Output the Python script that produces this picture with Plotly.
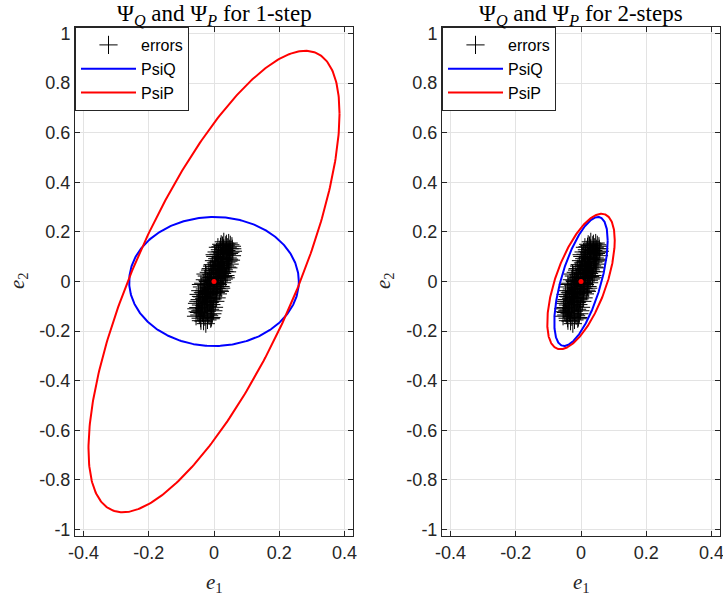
import numpy as np
import plotly.graph_objects as go

# ---- data ----
err_e1 = [-0.032, -0.020, -0.041, -0.010, -0.028, -0.045, -0.015, -0.035, -0.005, -0.050,
          -0.022, -0.038, -0.012, -0.030, -0.048, 0.000, -0.020, -0.040, -0.008, -0.027,
          -0.052, -0.015, -0.035, 0.004, -0.024, -0.044, -0.010, -0.030, 0.008, -0.018,
          -0.040, -0.002, -0.026, -0.047, 0.012, -0.013, -0.034, 0.002, -0.022, -0.042,
          0.016, -0.006, -0.028, 0.008, -0.016, -0.037, 0.020, -0.002, -0.024, 0.012,
          -0.012, -0.033, 0.025, 0.003, -0.018, 0.015, -0.006, -0.028, 0.030, 0.008,
          -0.014, 0.020, -0.002, -0.022, 0.035, 0.012, -0.008, 0.025, 0.004, -0.016,
          0.040, 0.018, -0.002, 0.030, 0.010, -0.010, 0.044, 0.022, 0.002, 0.034,
          0.014, -0.004, 0.048, 0.026, 0.006, 0.038, 0.018, 0.000, 0.052, 0.030,
          0.010, 0.042, 0.022, 0.004, 0.055, 0.034, 0.014, 0.046, 0.026, 0.008,
          0.058, 0.038, 0.018, 0.048, 0.030, 0.012, 0.055, 0.036, 0.022, 0.045,
          0.030,
          -0.025, -0.040, -0.008, -0.055, -0.018, -0.042, -0.002, -0.030, -0.012, -0.048,
          -0.004, -0.036, -0.020, 0.006, -0.030, -0.010, 0.022, -0.040, 0.006, -0.020,
          0.024, -0.008, 0.028, -0.026, 0.014, 0.032, -0.012, 0.020, 0.040, -0.006,
          0.024, 0.010, 0.044, 0.028, 0.014, 0.040, 0.020, 0.050, 0.030, 0.042,
          0.026, 0.038, 0.050, 0.020,
          -0.046, -0.022, 0.010, -0.054, 0.018, 0.036, -0.030, 0.046, 0.056, 0.002]
err_e2 = [-0.160, -0.155, -0.148, -0.150, -0.142, -0.135, -0.138, -0.128, -0.130, -0.122,
          -0.120, -0.115, -0.112, -0.108, -0.105, -0.104, -0.100, -0.095, -0.093, -0.090,
          -0.088, -0.085, -0.082, -0.080, -0.077, -0.073, -0.071, -0.068, -0.066, -0.063,
          -0.060, -0.058, -0.055, -0.052, -0.050, -0.048, -0.045, -0.043, -0.040, -0.037,
          -0.035, -0.033, -0.030, -0.028, -0.025, -0.022, -0.020, -0.018, -0.015, -0.012,
          -0.010, -0.007, -0.005, -0.003, 0.000, 0.002, 0.005, 0.007, 0.010, 0.012,
          0.014, 0.017, 0.019, 0.022, 0.024, 0.027, 0.029, 0.032, 0.034, 0.037,
          0.039, 0.042, 0.044, 0.047, 0.050, 0.052, 0.055, 0.057, 0.060, 0.063,
          0.065, 0.068, 0.070, 0.073, 0.075, 0.078, 0.081, 0.084, 0.086, 0.089,
          0.092, 0.095, 0.098, 0.101, 0.104, 0.107, 0.110, 0.113, 0.116, 0.119,
          0.122, 0.125, 0.128, 0.132, 0.135, 0.138, 0.142, 0.146, 0.150, 0.155,
          0.160,
          -0.170, -0.158, -0.145, -0.140, -0.132, -0.118, -0.118, -0.098, -0.083, -0.080,
          -0.070, -0.062, -0.052, -0.045, -0.038, -0.030, -0.027, -0.012, -0.008, 0.003,
          0.005, 0.016, 0.020, 0.030, 0.036, 0.040, 0.046, 0.052, 0.058, 0.062,
          0.067, 0.078, 0.082, 0.094, 0.100, 0.110, 0.120, 0.118, 0.130, 0.138,
          0.145, 0.152, 0.148, 0.140,
          -0.125, -0.065, -0.020, -0.110, -0.040, 0.015, -0.046, 0.090, 0.132, 0.108]

# ellipse shape matrices [P11, P12, P22]
psiQ_1 = [0.0676, 0.0, 0.0676]
psiP_1 = [0.148, 0.26, 0.865]
psiQ_2 = [0.0067, 0.0135, 0.0676]
psiP_2 = [0.0107, 0.0172, 0.0745]
center = [0.0, 0.0]

x_tickvals = [-0.4, -0.2, 0, 0.2, 0.4]
x_ticktext = ["-0.4", "-0.2", "0", "0.2", "0.4"]
y_tickvals = [-1, -0.8, -0.6, -0.4, -0.2, 0, 0.2, 0.4, 0.6, 0.8, 1]
y_ticktext = ["-1", "-0.8", "-0.6", "-0.4", "-0.2", "0", "0.2", "0.4", "0.6", "0.8", "1"]

titles = ["Ψ<sub><i>Q</i></sub> and Ψ<sub><i>P</i></sub> for 1-step",
          "Ψ<sub><i>Q</i></sub> and Ψ<sub><i>P</i></sub> for 2-steps"]


def ellipse(m, n=400):
    P = np.array([[m[0], m[1]], [m[1], m[2]]])
    L = np.linalg.cholesky(P)
    t = np.linspace(0, 2 * np.pi, n)
    pts = L @ np.vstack([np.cos(t), np.sin(t)])
    return pts[0] + center[0], pts[1] + center[1]


fig = go.Figure()
SANS = "Liberation Sans"
SERIF = "Liberation Serif"
AX = "#262626"

panels = [(psiQ_1, psiP_1, "x", "y", "legend"), (psiQ_2, psiP_2, "x2", "y2", "legend2")]
for q, p, xa, ya, lg in panels:
    fig.add_trace(go.Scatter(x=err_e1, y=err_e2, mode="markers", name="errors",
                             xaxis=xa, yaxis=ya, legend=lg,
                             marker=dict(symbol="cross-thin", size=13, color="black",
                                         line=dict(color="black", width=1))))
    qx, qy = ellipse(q)
    fig.add_trace(go.Scatter(x=qx, y=qy, mode="lines", name="PsiQ", xaxis=xa, yaxis=ya,
                             legend=lg, line=dict(color="#0000ff", width=2)))
    px_, py_ = ellipse(p)
    fig.add_trace(go.Scatter(x=px_, y=py_, mode="lines", name="PsiP", xaxis=xa, yaxis=ya,
                             legend=lg, line=dict(color="#ff0000", width=2)))
    fig.add_trace(go.Scatter(x=[center[0]], y=[center[1]], mode="markers", showlegend=False,
                             xaxis=xa, yaxis=ya, marker=dict(color="#ff0000", size=5)))

W, H = 723, 601
xdoms = [[75 / W, 353 / W], [442 / W, 720 / W]]
ydom = [1 - 536 / H, 1 - 27 / H]

axcommon = dict(showline=True, linecolor=AX, linewidth=1, mirror="ticks", ticks="inside",
                ticklen=5, tickcolor=AX, showgrid=True, gridcolor="#e3e3e3", gridwidth=1,
                zeroline=False, tickfont=dict(family=SANS, size=18, color=AX),
                ticklabeloverflow="allow")
layout = dict(width=W, height=H, margin=dict(l=0, r=0, t=0, b=0, autoexpand=False),
              plot_bgcolor="white", paper_bgcolor="white", showlegend=True)
for i, (xa, ya) in enumerate([("xaxis", "yaxis"), ("xaxis2", "yaxis2")]):
    layout[xa] = dict(axcommon, domain=xdoms[i], range=[-0.426, 0.426],
                      tickvals=x_tickvals, ticktext=x_ticktext,
                      anchor="y" if i == 0 else "y2")
    layout[ya] = dict(axcommon, domain=ydom, range=[-1.026, 1.026],
                      tickvals=y_tickvals, ticktext=y_ticktext,
                      anchor="x" if i == 0 else "x2")

legcommon = dict(bgcolor="white", bordercolor=AX, borderwidth=1,
                 font=dict(family=SANS, size=16, color="black"),
                 xanchor="left", yanchor="top", y=ydom[1], tracegroupgap=0,
                 itemwidth=55)
layout["legend"] = dict(legcommon, x=xdoms[0][0])
layout["legend2"] = dict(legcommon, x=xdoms[1][0])
fig.update_layout(**layout)

ann = []
for i in range(2):
    cx = (xdoms[i][0] + xdoms[i][1]) / 2
    ann.append(dict(text=titles[i], x=cx, y=1.0, xref="paper", yref="paper",
                    showarrow=False, xanchor="center", yanchor="top", borderpad=0,
                    font=dict(family=SERIF, size=23, color="black")))
    ann.append(dict(text="<i>e</i><sub>1</sub>", x=cx, y=1 - 583 / H, xref="paper",
                    yref="paper", showarrow=False, xanchor="center", yanchor="middle",
                    font=dict(family=SERIF, size=21, color=AX)))
    ann.append(dict(text="<i>e</i><sub>2</sub>", x=(18 if i == 0 else 384) / W,
                    y=1 - 281 / H, xref="paper", yref="paper", showarrow=False,
                    textangle=-90, xanchor="center", yanchor="middle",
                    font=dict(family=SERIF, size=21, color=AX)))
fig.update_layout(annotations=ann)

fig.write_html("out.html", config={"displayModeBar": False},
               post_script="document.body.style.margin='0';")
